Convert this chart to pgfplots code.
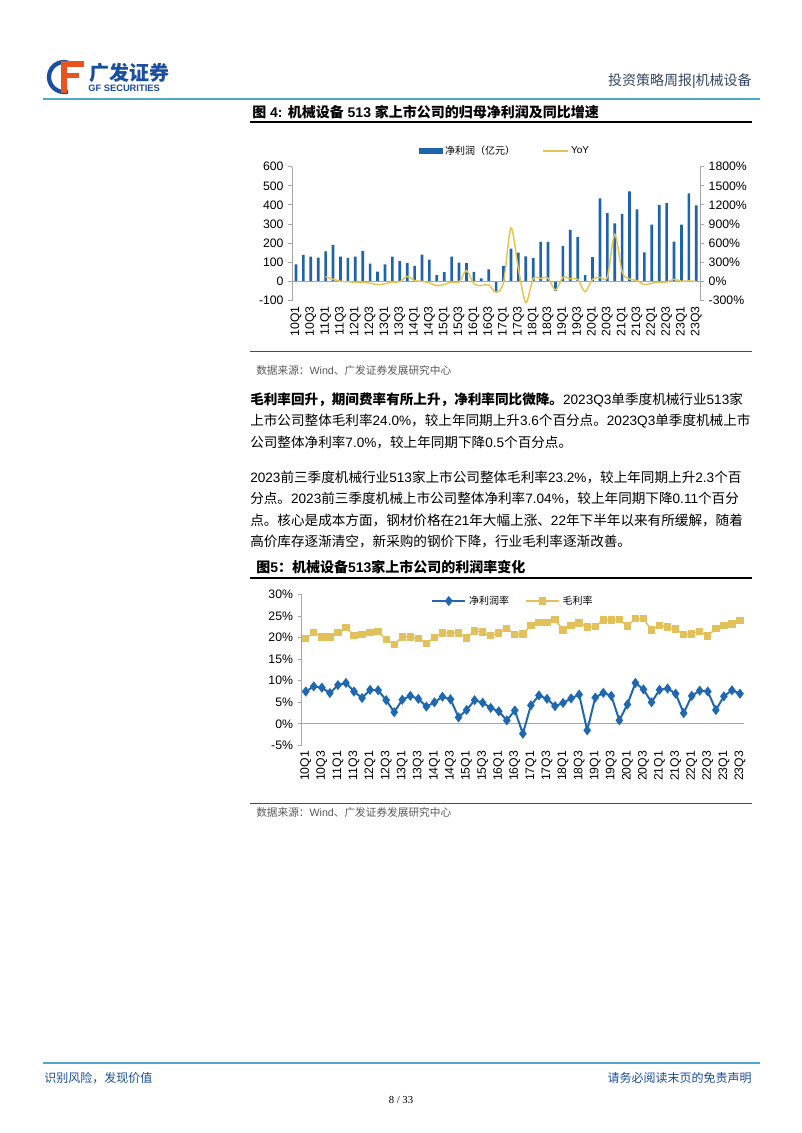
\documentclass[border=0pt]{standalone}
\usepackage{fontspec}
\setmainfont{Liberation Sans}
\newfontfamily\cjkfont{Noto Sans CJK SC}
\newfontfamily\seriffont{Liberation Serif}
\usepackage{pgfplots}
\usepackage{pgfplotstable}
\pgfplotsset{compat=1.18}
\newcommand\latinfont{\fontfamily{\rmdefault}\selectfont}
% automatic switching to the CJK font
\XeTeXinterchartokenstate=1
\newXeTeXintercharclass\cjkclass
\makeatletter
\count@="3000 \loop \XeTeXcharclass\count@=\cjkclass \ifnum\count@<"303F \advance\count@ 1 \repeat
\count@="4E00 \loop \XeTeXcharclass\count@=\cjkclass \ifnum\count@<"9FFF \advance\count@ 1 \repeat
\count@="FF00 \loop \XeTeXcharclass\count@=\cjkclass \ifnum\count@<"FFEF \advance\count@ 1 \repeat
\makeatother
\XeTeXinterchartoks 0 \cjkclass = {\cjkfont}
\XeTeXinterchartoks 4095 \cjkclass = {\cjkfont}
\XeTeXinterchartoks \cjkclass 0 = {\latinfont}
\XeTeXinterchartoks \cjkclass 4095 = {\latinfont}

\definecolor{barblue}{RGB}{30,100,172}
\definecolor{yoyyel}{RGB}{230,196,80}
\definecolor{netblue}{RGB}{31,104,176}
\definecolor{grossyel}{RGB}{226,192,90}
\definecolor{hdrblue}{RGB}{75,168,208}
\definecolor{axisgray}{RGB}{166,166,166}
\definecolor{srcgray}{RGB}{89,89,89}
\definecolor{navy}{RGB}{26,78,158}
\definecolor{hdrtext}{RGB}{55,70,100}
\definecolor{logoorange}{RGB}{232,84,30}

\pgfplotstableread{
x v
0 90
1 139
2 130
3 125
4 158
5 191
6 130
7 123
8 130
9 160
10 94
11 52
12 89
13 130
14 106
15 96
16 82
17 141
18 115
19 33
20 49
21 130
22 99
23 96
24 50
25 17
26 64
27 -52
28 82
29 172
30 151
31 132
32 122
33 207
34 207
35 -50
36 185
37 270
38 232
39 33
40 127
41 435
42 358
43 304
44 353
45 471
46 377
47 152
48 297
49 400
50 410
51 208
52 297
53 461
54 398
}\profit

\pgfplotstableread{
x v
4 75
5 37
6 5
7 -2
8 -12
9 -15
10 -25
11 -50
12 -35
13 -8
14 -3
15 80
16 15
17 2
18 -20
19 -65
20 -45
21 -10
22 -10
23 170
24 -35
25 -65
26 -50
27 -170
28 -10
29 840
30 200
31 -330
32 45
33 50
34 55
35 -135
36 65
37 45
38 35
39 -160
40 35
41 65
42 70
43 740
44 150
45 40
46 15
47 -50
48 -25
49 -12
50 -8
51 35
52 5
53 10
54 0
}\yoy

\pgfplotstableread{
x net gross
0 7.5 19.8
1 8.7 21.2
2 8.4 20.2
3 7.15 20.2
4 9.0 21.2
5 9.5 22.4
6 7.5 20.5
7 6.0 20.8
8 7.9 21.2
9 7.8 21.4
10 5.5 19.6
11 2.7 18.4
12 5.6 20.2
13 6.5 20.2
14 5.8 19.8
15 4.0 18.7
16 5.0 20.1
17 6.3 21.1
18 5.7 21.0
19 1.5 21.1
20 3.2 19.9
21 5.5 21.6
22 4.9 21.3
23 3.7 20.5
24 2.9 21.1
25 0.8 22.2
26 3.1 20.8
27 -2.3 20.9
28 4.3 22.8
29 6.6 23.5
30 5.8 23.5
31 4.1 24.2
32 4.85 21.8
33 5.9 22.8
34 6.8 23.4
35 -1.5 22.5
36 6.1 22.6
37 7.2 24.1
38 6.5 24.1
39 0.8 24.2
40 4.5 22.7
41 9.5 24.5
42 8.0 24.4
43 5.0 21.8
44 7.9 22.9
45 8.2 22.5
46 7.0 22.0
47 2.5 20.8
48 6.5 20.9
49 7.7 21.5
50 7.5 20.4
51 3.2 22.2
52 6.4 22.8
53 7.8 23.2
54 7.0 24.0
}\margin

\newcommand\tickfont{\fontsize{9.2}{10}\selectfont}
\newcommand\qlabels{10Q1,10Q3,11Q1,11Q3,12Q1,12Q3,13Q1,13Q3,14Q1,14Q3,15Q1,15Q3,16Q1,16Q3,17Q1,17Q3,18Q1,18Q3,19Q1,19Q3,20Q1,20Q3,21Q1,21Q3,22Q1,22Q3,23Q1,23Q3}

\pgfplotsset{
  pagechart/.style={
    scale only axis, anchor=south west,
    xmin=-0.5, xmax=54.5,
    /pgf/number format/assume math mode=true,
    /pgf/number format/1000 sep={},
    tick label style={font=\tickfont, text=black},
    tick align=outside, major tick length=3pt,
    axis line style={draw=axisgray, line width=0.7pt},
    ytick style={draw=axisgray, line width=0.7pt},
    clip=false,
  }
}

\begin{document}
\begin{tikzpicture}
\begin{scope}[x=0.75pt,y=-0.75pt]
\fill[white] (0,0) rectangle (802,1133);
\path[use as bounding box] (0,0) rectangle (802,1133);
% logo
\draw[navy, line width=3.2pt] (64,77) ++(75:15) arc (75:285:15);
\fill[logoorange] (61,61) rectangle (67,93);
\fill[logoorange] (61,61) rectangle (84,67);
\fill[logoorange] (61,73) rectangle (79,78);
\node[anchor=base west, inner sep=0, text=navy, font=\fontsize{15}{15}\selectfont\bfseries] at (89,80) {广发证券};
\node[anchor=base west, inner sep=0, text=navy, font=\fontsize{7}{7}\selectfont\bfseries] at (88,91) {GF SECURITIES};
\node[anchor=base east, inner sep=0, text=hdrtext, font=\fontsize{10.5}{12}\selectfont] at (752,85) {投资策略周报|机械设备};
\draw[hdrblue, line width=2pt] (43,99) -- (760,99);
% figure 4 title
\node[anchor=base west, inner sep=0, font=\fontsize{10.5}{12}\selectfont\bfseries] at (252,117) {图 4: 机械设备 513 家上市公司的归母净利润及同比增速};
\draw[black, line width=0.8pt] (250,122) -- (752,122);
% source 1
\draw[black!70, line width=0.5pt] (250,351) -- (752,351);
\node[anchor=base west, inner sep=0, text=srcgray, font=\fontsize{8}{10}\selectfont] at (256,374) {数据来源：Wind、广发证券发展研究中心};
% paragraphs
\begin{scope}[every node/.style={anchor=base west, inner sep=0, font=\fontsize{10.2}{12}\selectfont}]
\node at (250,404) {\textbf{毛利率回升，期间费率有所上升，净利率同比微降。}2023Q3单季度机械行业513家};
\node at (250,425.5) {上市公司整体毛利率24.0\%，较上年同期上升3.6个百分点。2023Q3单季度机械上市};
\node at (250,447) {公司整体净利率7.0\%，较上年同期下降0.5个百分点。};
\node at (250,482) {2023前三季度机械行业513家上市公司整体毛利率23.2\%，较上年同期上升2.3个百};
\node at (250,503.5) {分点。2023前三季度机械上市公司整体净利率7.04\%，较上年同期下降0.11个百分};
\node at (250,525) {点。核心是成本方面，钢材价格在21年大幅上涨、22年下半年以来有所缓解，随着};
\node at (250,546.5) {高价库存逐渐清空，新采购的钢价下降，行业毛利率逐渐改善。};
\end{scope}
% figure 5 title
\node[anchor=base west, inner sep=0, font=\fontsize{10.5}{12}\selectfont\bfseries] at (256,572) {图5：机械设备513家上市公司的利润率变化};
\draw[black, line width=0.8pt] (250,578) -- (752,578);
% source 2
\draw[black!70, line width=0.5pt] (250,803) -- (752,803);
\node[anchor=base west, inner sep=0, text=srcgray, font=\fontsize{8}{10}\selectfont] at (256,816) {数据来源：Wind、广发证券发展研究中心};
% footer
\draw[hdrblue, line width=2pt] (43,1063) -- (760,1063);
\node[anchor=base west, inner sep=0, text=navy, font=\fontsize{9}{10}\selectfont] at (44,1082) {识别风险，发现价值};
\node[anchor=base east, inner sep=0, text=navy, font=\fontsize{9}{10}\selectfont] at (752,1082) {请务必阅读末页的免责声明};
\node[anchor=base, inner sep=0, font=\fontsize{8}{10}\selectfont\seriffont] at (401,1103) {8 / 33};
\end{scope}

% ---------- chart 1: bars ----------
\begin{axis}[pagechart,
  at={(219.2pt,-225.5pt)}, width=305.8pt, height=100.5pt,
  ymin=-100, ymax=600, ytick={-100,0,...,600},
  axis x line*=bottom, axis y line*=left,
  x axis line style={draw=none},
  xtick={0,2,...,54}, xticklabels/.expand once=\qlabels,
  xtick style={draw=none},
  xticklabel style={rotate=90, anchor=east, inner sep=1pt},
  legend style={at={(0.522,1.117)}, anchor=center, draw=none, fill=none,
    legend columns=2, font=\fontsize{7.5}{9}\selectfont,
    /tikz/every even column/.append style={column sep=18pt}},
]
\addplot[ybar, bar width=2pt, fill=barblue, draw=none,
  legend image code/.code={\fill[barblue] (0pt,-2.2pt) rectangle (18pt,2.2pt);}]
  table[x=x, y=v] {\profit};
\addlegendentry{净利润（亿元）}
\addlegendimage{legend image code/.code={\draw[yoyyel, line width=1.1pt] (0pt,0pt) -- (18.75pt,0pt);}}
\addlegendentry{YoY}
\draw[axisgray, line width=0.7pt] (axis cs:-0.5,0) -- (axis cs:54.5,0);
\end{axis}

% ---------- chart 1: YoY ----------
\begin{axis}[pagechart,
  at={(219.2pt,-225.5pt)}, width=305.8pt, height=100.5pt,
  ymin=-300, ymax=1800, ytick={-300,0,...,1800},
  axis x line=none, axis y line*=right,
  yticklabel={\pgfmathprintnumber{\tick}\%},
]
\addplot[yoyyel, line width=1.1pt, smooth, no marks] table[x=x, y=v] {\yoy};
\end{axis}

% ---------- chart 2: margins ----------
\begin{axis}[pagechart,
  at={(226.3pt,-559pt)}, width=331.7pt, height=113pt,
  ymin=-5, ymax=30, ytick={-5,0,...,30},
  yticklabel={\pgfmathprintnumber{\tick}\%},
  axis x line*=bottom, axis y line*=left,
  x axis line style={draw=none},
  xtick={0,2,...,54}, xticklabels/.expand once=\qlabels,
  xtick style={draw=none},
  xticklabel style={rotate=90, anchor=east, inner sep=1pt},
  legend style={at={(0.478,0.958)}, anchor=center, draw=none, fill=none,
    legend columns=2, font=\fontsize{7.5}{9}\selectfont,
    /tikz/every even column/.append style={column sep=10pt}},
  legend image code/.code={\draw[#1] (0pt,0pt) -- (25pt,0pt) plot coordinates {(12.5pt,0pt)};},
]
\draw[axisgray, line width=0.7pt] (axis cs:-0.5,0) -- (axis cs:54.5,0);
\addplot[netblue, line width=1.5pt, mark=diamond*, mark size=2.6pt, mark options={solid}] table[x=x, y=net] {\margin};
\addlegendentry{净利润率}
\addplot[grossyel, line width=1.1pt, mark=square*, mark size=2.2pt] table[x=x, y=gross] {\margin};
\addlegendentry{毛利率}
\end{axis}
\end{tikzpicture}
\end{document}
